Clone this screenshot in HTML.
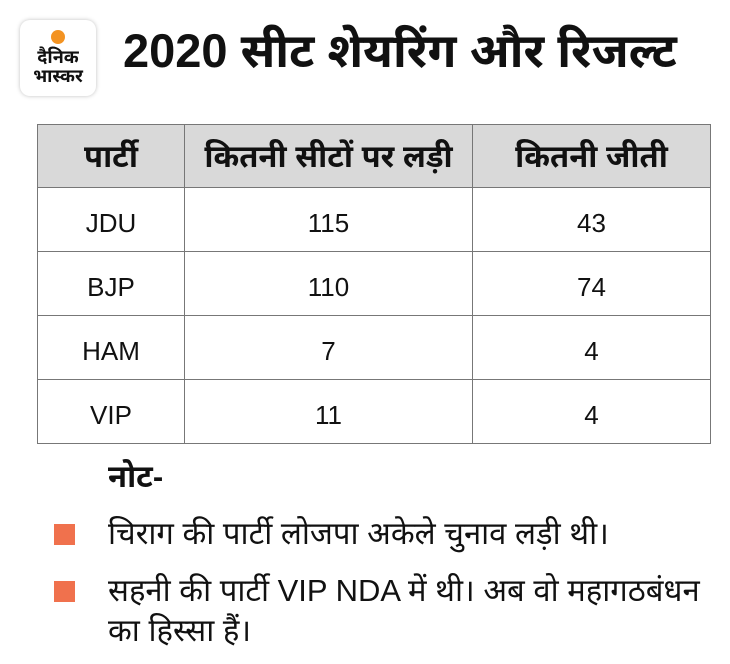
<!DOCTYPE html>
<html><head><meta charset="utf-8"><style>
body{margin:0;width:730px;height:664px;background:#fff;position:relative;font-family:"Liberation Sans","Noto Sans Devanagari","Lohit Devanagari",sans-serif;color:#111;overflow:hidden}
.abs{position:absolute}
.logo{left:20px;top:20px;width:76px;height:76px;border-radius:10px;background:#fff;box-shadow:0 0 4px rgba(0,0,0,0.25)}
.dot{left:31px;top:10px;width:14px;height:14px;border-radius:50%;background:#f39322}
.lt{left:0;width:76px;text-align:center;font-weight:bold;font-size:18px;line-height:18px}
h1{position:absolute;left:123px;top:24px;margin:0;font-size:47px;font-weight:bold;line-height:54px;white-space:nowrap}
table{position:absolute;left:37px;top:124px;border-collapse:collapse;width:674px}
td,th{border:1.5px solid #777;text-align:center;font-size:26px;padding:7px 0 0 0;box-sizing:border-box}
table{border:1.5px solid #222}
th{background:#d9d9d9;height:63px;font-weight:bold;font-size:31px}
td{height:64px}
.sq{width:21px;height:21px;background:#f0714d;left:54px}
.n{left:108px;font-size:31px;line-height:38px;white-space:nowrap}
</style></head><body>
<div class="abs logo"><div class="abs dot"></div><div class="abs lt" style="top:28px">दैनिक</div><div class="abs lt" style="top:47px">भास्कर</div></div>
<h1>2020 सीट शेयरिंग और रिजल्ट</h1>
<table>
<tr><th style="width:147px">पार्टी</th><th style="width:288px">कितनी सीटों पर लड़ी</th><th>कितनी जीती</th></tr>
<tr><td>JDU</td><td>115</td><td>43</td></tr>
<tr><td>BJP</td><td>110</td><td>74</td></tr>
<tr><td>HAM</td><td>7</td><td>4</td></tr>
<tr><td>VIP</td><td>11</td><td>4</td></tr>
</table>
<div class="abs n" style="top:458px;font-weight:bold">नोट-</div>
<div class="abs sq" style="top:524px"></div>
<div class="abs n" style="top:515px">चिराग की पार्टी लोजपा अकेले चुनाव लड़ी थी।</div>
<div class="abs sq" style="top:581px"></div>
<div class="abs n" style="top:572px">सहनी की पार्टी VIP NDA में थी। अब वो महागठबंधन</div>
<div class="abs n" style="top:612px">का हिस्सा हैं।</div>
</body></html>
